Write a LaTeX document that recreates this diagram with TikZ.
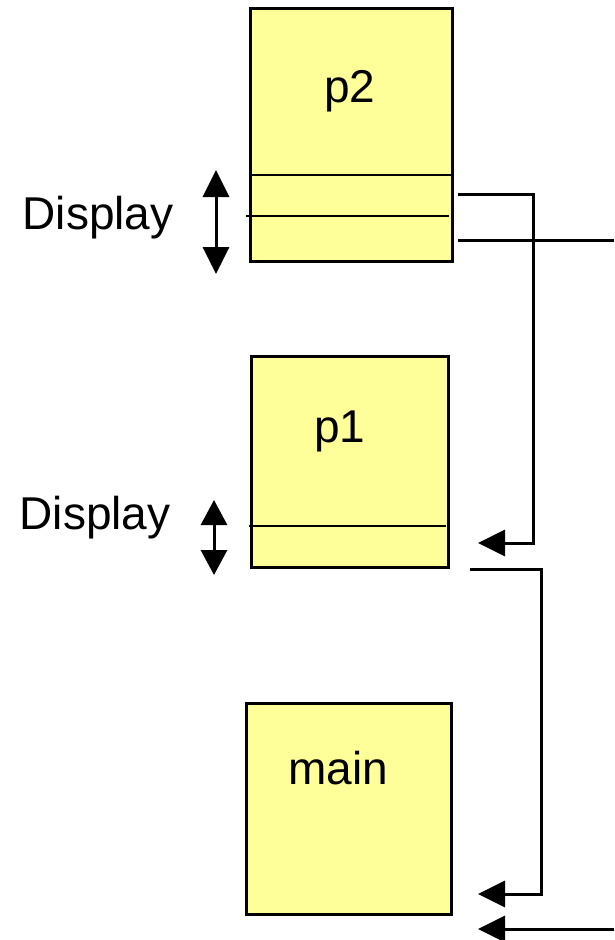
\documentclass[tikz,border=0pt]{standalone}
\usepackage{fontspec}
\setmainfont{Liberation Sans}
\usepackage{tikz}
\usetikzlibrary{arrows.meta,calc,positioning,fit}

\definecolor{paleyellow}{RGB}{255,255,153}

\begin{document}
\begin{tikzpicture}[x=1pt,y=-1pt, arrow/.style = {line width=3pt,-{Triangle[length=27pt,width=26pt]}}]
		\tikzset{frame/.style={draw,rectangle,inner sep=0pt,line width=3pt,fill=paleyellow}}
		\tikzset{lbl/.style={font=\fontsize{46}{50}\selectfont}}
		\tikzset{sep/.style={line width=2.2pt}}

		\useasboundingbox (0,0) rectangle (614,940);

		% Frames
		\node[fit={(250,8) (452,261)}, frame] (p2) {};
		\node[fit={(251,356) (448,567)}, frame] (p1) {};
		\node[fit={(246,703) (451,914)}, frame] (main) {};

		% Names
		\node[lbl] (p2name) at (350,91) {p2};
		\node[lbl] (p1name) at (340,431) {p1};
		\node[lbl] (mainname) at (338,768) {main};

		% Inner lines
		\draw[sep] (p2.west |- 0,175) -- (p2.east |- 0,175);
		\draw[sep] (246,216) -- (449,216);
		\draw[sep] (249,526) -- (446,526);

		% Display markers
		\node[lbl, anchor=east] (disp2) at (177,218) {Display};
		\node[lbl, anchor=east] (disp1) at (174,518) {Display};
		\coordinate (d2top) at (216,170);
		\coordinate (d2bot) at (216,274);
		\coordinate (d1top) at (214,500);
		\coordinate (d1bot) at (214,575);
		\draw[arrow, {Triangle[length=27pt,width=26pt]}-{Triangle[length=27pt,width=26pt]}] (d2top) -- (d2bot);
		\draw[arrow, {Triangle[length=25pt,width=26pt]}-{Triangle[length=25pt,width=26pt]}] (d1top) -- (d1bot);

		% Links
		\coordinate (out2a) at (458,194);
		\coordinate (out2b) at (458,240);
		\coordinate (edge2) at (614,240);
		\coordinate (in1) at (478,543);
		\coordinate (out1) at (470,569);
		\coordinate (inmain) at (478,894);
		\coordinate (inmainb) at (478,929);
		\coordinate (edgemain) at (614,929);

		\draw [arrow] (out2a) -| (533,543) -- (in1);
		\draw [line width=3pt] (out2b) -- (edge2);
		\draw [arrow] (out1) -| (541,894) -- (inmain);
		\draw [arrow] (edgemain) -- (inmainb);

	\end{tikzpicture}
\end{document}
